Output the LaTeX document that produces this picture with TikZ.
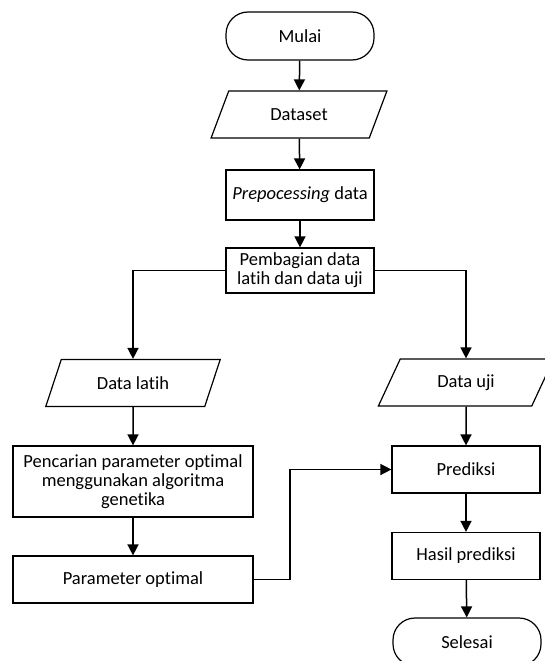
\documentclass[tikz,border=0pt]{standalone}
\usepackage{fontspec}
\setmainfont{Carlito}[Ligatures=NoCommon]
\usetikzlibrary{arrows.meta,shapes.geometric}
\tikzstyle{terminal}=[rectangle, rounded corners=22pt, draw, line width=1.2pt, minimum width=148pt, minimum height=48pt, inner sep=0pt]
\tikzstyle{process}=[rectangle, draw, line width=1.2pt, minimum width=148pt, minimum height=47pt, inner sep=0pt, align=center]
\tikzstyle{data}=[trapezium, trapezium left angle=59, trapezium right angle=121, trapezium stretches=true, draw, line width=1.2pt, minimum width=176pt, minimum height=47pt, inner sep=0pt]
\tikzstyle{flow}=[draw, line width=1.5pt, -{Triangle[length=11pt,width=11pt]}]
\newcommand{\block}{\node[process]}

\begin{document}
\begin{tikzpicture}[x=1pt, y=-1pt, font=\fontsize{18.5}{18.7}\selectfont, every edge/.style={flow}]
\useasboundingbox (0,0) rectangle (544,661);
% jalur utama
\node[terminal] (mulai) at (300,36) {Mulai};
\node[data] (dataset) at (299,114.5) {Dataset};
\block[minimum height=50pt] (prep) at (300,195) {\textit{Prepocessing} data};
\block[minimum height=45pt] (bagi) at (300,270.5) {Pembagian data\\latih dan data uji};
% cabang kiri
\node[data] (latih) at (133,383) {Data latih};
\block[minimum width=240pt, minimum height=71pt] (cari) at (133,481.5) {Pencarian parameter optimal\\menggunakan algoritma\\genetika};
\block[minimum width=240pt] (param) at (133,579.5) {Parameter optimal};
\coordinate (belok) at (290,579.5);
% cabang kanan
\node[data] (uji) at (466,382.5) {Data uji};
\block (prediksi) at (466,469.5) {Prediksi};
\block (hasil) at (466,556) {Hasil prediksi};
\node[terminal] (selesai) at (467,642) {Selesai};
\path
(mulai) edge (dataset)
(dataset) edge (prep)
(prep) edge (bagi)
(latih) edge (cari)
(cari) edge (param)
(uji) edge (prediksi)
(prediksi) edge (hasil)
(hasil) edge (selesai)
;
\draw[flow] (bagi.west) -| (latih.north);
\draw[flow] (bagi.east) -| (uji.north);
\draw[flow] (param.east) -- (belok) |- (prediksi.west);
\end{tikzpicture}
\end{document}
